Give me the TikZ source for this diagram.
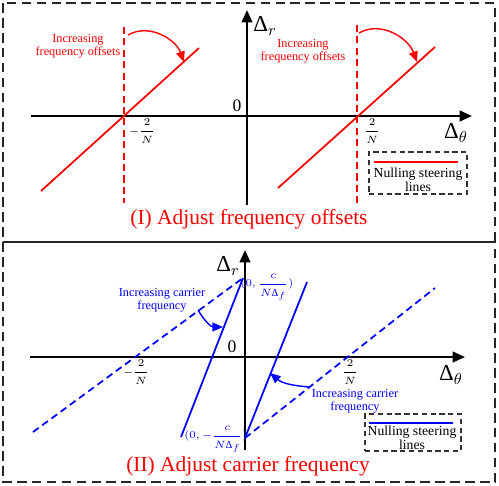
\documentclass[tikz,border=0pt]{standalone}
\usepackage{fontspec}
\setmainfont{Liberation Serif}
\usepackage{amsmath}
\usetikzlibrary{arrows.meta}
\newcommand{\Dl}{\text{Δ}}

\begin{document}
\begin{tikzpicture}[x=0.02cm, y=-0.02cm,
    panel/.style={draw=black!85, line width=0.9pt, dash pattern=on 5.5pt off 3pt},
    axis/.style={line width=1.3pt, -{Triangle[length=7pt, width=6pt]}},
    nullline/.style={line width=1pt},
    guide/.style={line width=1pt, dash pattern=on 4pt off 2.5pt},
    turn/.style={line width=0.8pt, -{Triangle[length=6pt, width=5pt]}},
    note/.style={font=\fontsize{7}{7.6}\selectfont, align=center, inner sep=1pt},
    legendbox/.style={draw=black!80, line width=0.7pt, dash pattern=on 3pt off 2pt},
    title/.style={text=red, font=\fontsize{12.2}{14}\selectfont, inner sep=0pt}]
  \useasboundingbox (0,0) rectangle (499,485);

  % panels
  \draw[panel] (3,3) rectangle (495,242);
  \draw[panel] (3,242) rectangle (495,482);

  % ---------- (I) adjust frequency offsets ----------
  \coordinate (xIs) at (31,116);
  \coordinate (xIe) at (472,116);
  \coordinate (yIs) at (247,205);
  \coordinate (yIe) at (247,10);
  \draw[axis] (xIs) -- (xIe);
  \draw[axis] (yIs) -- (yIe);
  \node[font=\fontsize{10}{12}\selectfont] (zeroI) at (237,106) {0};
  \node[font=\fontsize{13}{14}\selectfont] (drI) at (265,26) {$\Dl_r$};
  \node[font=\fontsize{13}{14}\selectfont] (dtI) at (456,133) {$\Dl_\theta$};
  \node[font=\fontsize{6.5}{7}\selectfont] (mtwoI) at (142,131) {$-\dfrac{2}{N}$};
  \node[font=\fontsize{6.5}{7}\selectfont] (ptwoI) at (372,131) {$\dfrac{2}{N}$};

  \coordinate (aL1) at (41,191);
  \coordinate (aL2) at (199,48);
  \coordinate (dL1) at (124,27);
  \coordinate (dL2) at (124,203);
  \coordinate (aR1) at (278,188);
  \coordinate (aR2) at (435,47);
  \coordinate (dR1) at (357,25);
  \coordinate (dR2) at (357,203);
  \draw[nullline, red] (aL1) -- (aL2);
  \draw[guide, red] (dL1) -- (dL2);
  \draw[nullline, red] (aR1) -- (aR2);
  \draw[guide, red] (dR1) -- (dR2);

  \coordinate (rotL1) at (128,35);
  \coordinate (rotL2) at (184,62);
  \coordinate (rotR1) at (359,33);
  \coordinate (rotR2) at (417,62);
  \draw[turn, red] (rotL1) to[out=30, in=110] (rotL2);
  \draw[turn, red] (rotR1) to[out=30, in=110] (rotR2);
  \node[note, text=red] (incL) at (78,46) {Increasing\\frequency offsets};
  \node[note, text=red] (incR) at (303,51) {Increasing\\frequency offsets};

  \node[legendbox, minimum width=98*0.02cm, minimum height=42*0.02cm] (legI) at (418,173) {};
  \coordinate (lgIa) at (374,162);
  \coordinate (lgIb) at (458,162);
  \draw[nullline, red] (lgIa) -- (lgIb);
  \node[font=\fontsize{7.8}{8.2}\selectfont, align=center, inner sep=0pt] (lgItxt) at (418,180) {Nulling steering\\lines};

  \node[title] (titleI) at (249,219) {(I) Adjust frequency offsets};

  % ---------- (II) adjust carrier frequency ----------
  \coordinate (xIIs) at (30,357);
  \coordinate (xIIe) at (465,357);
  \coordinate (yIIs) at (245,450);
  \coordinate (yIIe) at (245,250);
  \draw[axis] (xIIs) -- (xIIe);
  \draw[axis] (yIIs) -- (yIIe);
  \node[font=\fontsize{10}{12}\selectfont] (zeroII) at (232,347) {0};
  \node[font=\fontsize{13}{14}\selectfont] (drII) at (228,266) {$\Dl_r$};
  \node[font=\fontsize{13}{14}\selectfont] (dtII) at (451,375) {$\Dl_\theta$};
  \node[font=\fontsize{6.5}{7}\selectfont] (mtwoII) at (136,372) {$-\dfrac{2}{N}$};
  \node[font=\fontsize{6.5}{7}\selectfont] (ptwoII) at (350,372) {$\dfrac{2}{N}$};

  \coordinate (b1a) at (181,437);
  \coordinate (b1b) at (243,278);
  \coordinate (b2a) at (245,438);
  \coordinate (b2b) at (307,282);
  \coordinate (c1a) at (33,432);
  \coordinate (c2b) at (435,288);
  \draw[guide, blue] (c1a) -- (b1b);
  \draw[guide, blue] (b2a) -- (c2b);
  \draw[nullline, blue] (b1a) -- (b1b);
  \draw[nullline, blue] (b2a) -- (b2b);

  \node[font=\fontsize{6}{7}\selectfont, text=blue, inner sep=0pt] (topcut) at (267,287) {$(0,\dfrac{c}{N\Dl_f})$};
  \node[font=\fontsize{6}{7}\selectfont, text=blue, inner sep=0pt] (botcut) at (216,439) {$(0,-\dfrac{c}{N\Dl_f})$};

  \coordinate (rotB1) at (198,310);
  \coordinate (rotB2) at (223,327);
  \coordinate (rotC1) at (309,387);
  \coordinate (rotC2) at (270,373);
  \draw[turn, blue] (rotB1) to[out=-60, in=180] (rotB2);
  \draw[turn, blue] (rotC1) to[out=175, in=-40] (rotC2);
  \node[note, text=blue] (incB) at (162,300) {Increasing carrier\\frequency};
  \node[note, text=blue] (incC) at (355,401) {Increasing carrier\\frequency};

  \node[legendbox, minimum width=96*0.02cm, minimum height=37*0.02cm] (legII) at (413,432.5) {};
  \coordinate (lgIIa) at (369,423);
  \coordinate (lgIIb) at (453,423);
  \draw[nullline, blue] (lgIIa) -- (lgIIb);
  \node[font=\fontsize{7.8}{8.2}\selectfont, align=center, inner sep=0pt] (lgIItxt) at (412,438) {Nulling steering\\lines};

  \node[title] (titleII) at (248,466) {(II) Adjust carrier frequency};
\end{tikzpicture}
\end{document}
